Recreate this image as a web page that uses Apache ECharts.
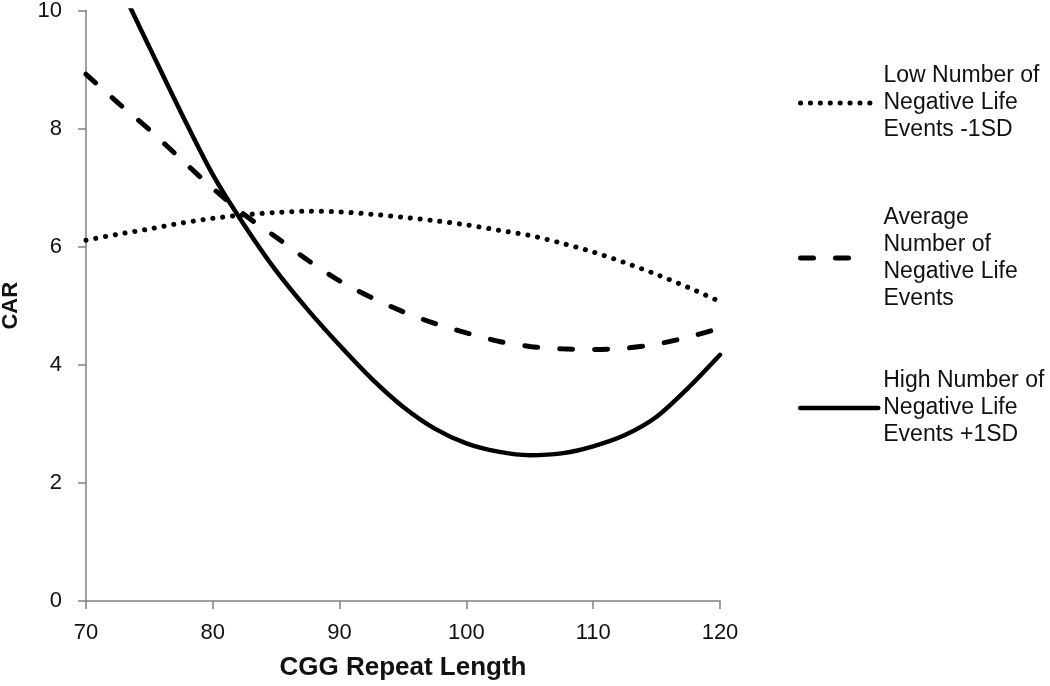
<!DOCTYPE html>
<html>
<head>
<meta charset="utf-8">
<script src="https://cdn.jsdelivr.net/npm/echarts@6/dist/echarts.min.js"></script>
<style>
html,body{margin:0;padding:0;background:#fff;}
#chart{width:1050px;height:686px;}
</style>
</head>
<body>
<div id="chart"></div>
<script>
const seriesNames = [
  'Low Number of Negative Life Events -1SD',
  'Average Number of Negative Life Events',
  'High Number of Negative Life Events +1SD'
];
const legendLines = [
  ['Low Number of', 'Negative Life', 'Events -1SD'],
  ['Average', 'Number of', 'Negative Life', 'Events'],
  ['High Number of', 'Negative Life', 'Events +1SD']
];
const xValues = [70,72.5,75,77.5,80,82.5,85,87.5,90,92.5,95,97.5,100,102.5,105,107.5,110,112.5,115,117.5,120];
const lowVals = [6.11,6.21,6.30,6.40,6.48,6.54,6.58,6.60,6.59,6.55,6.50,6.44,6.37,6.28,6.19,6.06,5.91,5.73,5.53,5.31,5.07];
const avgVals = [8.92,8.44,7.98,7.48,6.99,6.54,6.16,5.77,5.42,5.14,4.90,4.70,4.54,4.40,4.31,4.27,4.26,4.28,4.35,4.47,4.62];
const highVals = [11.7,10.5,9.38,8.27,7.22,6.36,5.59,4.93,4.33,3.77,3.29,2.92,2.67,2.53,2.47,2.50,2.62,2.81,3.12,3.61,4.17];
const xTicks = [70,80,90,100,110,120];
const yTicks = [0,2,4,6,8,10];

const FONT = '"Liberation Sans", Arial, sans-serif';
const LH = 27;
const pair = vals => xValues.map((x, i) => [x, vals[i]]);

const styles = [
  {type: [0.1, 9.8], width: 5, cap: 'round'},
  {type: [13, 22], width: 5, cap: 'round'},
  {type: 'solid', width: 4.5, cap: 'round'}
];
const valsList = [lowVals, avgVals, highVals];
const legendIconY = [103, 258, 408];
const legendIconW = [74, 62, 78];

const legends = seriesNames.map((name, i) => {
  const n = legendLines[i].length;
  return {
    left: 798,
    top: legendIconY[i] - (2 * n - 1) * LH / 2,
    orient: 'vertical',
    padding: 0,
    itemWidth: legendIconW[i],
    itemHeight: 10,
    selectedMode: false,
    data: [{name: name}],
    formatter: () => legendLines[i].join('\n'),
    itemStyle: {opacity: 0},
    lineStyle: {color: '#000', width: styles[i].width, type: styles[i].type, cap: styles[i].cap, opacity: 1},
    textStyle: {
      fontFamily: FONT, fontSize: 23, lineHeight: LH, color: '#111',
      padding: [(n - 1) * LH, 0, 0, 78 - legendIconW[i]]
    }
  };
});

const chart = echarts.init(document.getElementById('chart'), null, {renderer: 'canvas'});
chart.setOption({
  backgroundColor: '#fff',
  animation: false,
  grid: {left: 86, right: 330, top: 10.5, bottom: 85, containLabel: false, outerBoundsMode: 'none'},
  legend: legends,
  xAxis: {
    type: 'value', min: xTicks[0], max: xTicks[xTicks.length - 1], interval: 10,
    name: 'CGG Repeat Length', nameLocation: 'middle', nameGap: 54,
    nameTextStyle: {fontFamily: FONT, fontSize: 26, fontWeight: 'bold', color: '#111'},
    axisLine: {lineStyle: {color: '#808080', width: 1.5}},
    axisTick: {show: true, inside: false, length: 8, lineStyle: {color: '#808080', width: 1.5}},
    axisLabel: {fontFamily: FONT, fontSize: 22, color: '#111', margin: 21},
    splitLine: {show: false}
  },
  yAxis: {
    type: 'value', min: yTicks[0], max: yTicks[yTicks.length - 1], interval: 2,
    name: 'CAR', nameLocation: 'middle', nameGap: 64, nameRotate: 90,
    nameTextStyle: {fontFamily: FONT, fontSize: 22, fontWeight: 'bold', color: '#111'},
    axisLine: {show: true, lineStyle: {color: '#808080', width: 1.5}},
    axisTick: {show: true, inside: false, length: 8, lineStyle: {color: '#808080', width: 1.5}},
    axisLabel: {fontFamily: FONT, fontSize: 22, color: '#111', margin: 24},
    splitLine: {show: false}
  },
  series: seriesNames.map((name, i) => ({
    name: name,
    type: 'line',
    data: pair(valsList[i]),
    symbol: 'none',
    showSymbol: false,
    smooth: 0.3,
    clip: true,
    color: '#000',
    lineStyle: {color: '#000', width: styles[i].width, type: styles[i].type, cap: styles[i].cap}
  }))
});
</script>
</body>
</html>
